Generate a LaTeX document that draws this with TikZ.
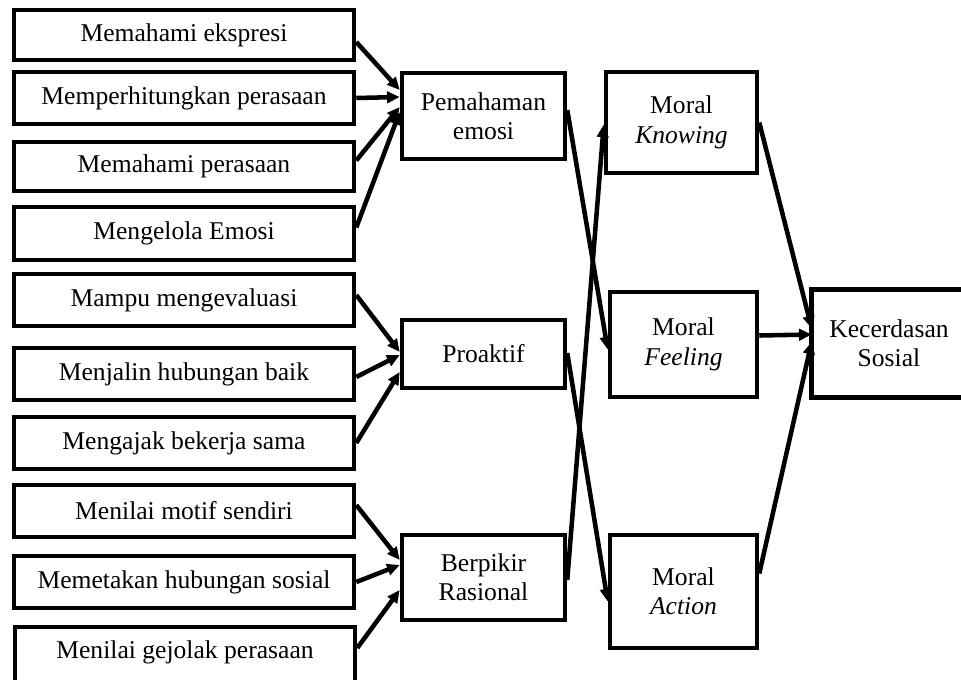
\documentclass[tikz,border=0pt]{standalone}
\usepackage{fontspec}
\setmainfont{Liberation Serif}
\usetikzlibrary{arrows.meta,calc}
\tikzset{
  box/.style={draw, line width=3.4pt, align=center, inner sep=0pt,
    font=\fontsize{19.2}{22}\selectfont},
  lbox/.style={box, minimum width=255pt},
  mbox/.style={box, minimum width=122.25pt},
  arr/.style={line width=3.4pt, -{Triangle[length=9.5pt,width=8.5pt]}},
}
\begin{document}
\begin{tikzpicture}[x=0.75pt,y=-0.75pt]
\fill[white] (0,0) rectangle (961,679);
\useasboundingbox (0,0) rectangle (961,679);
\begin{scope}
\clip (0,0) rectangle (961,679);
% result (box runs past the right margin)
\node[box, draw=none, minimum width=112.5pt, minimum height=77.25pt] (kec) at (889,343.5) {Kecerdasan\\Sosial};
\draw[line width=3.4pt] ($(kec.north east)+(40,0)$) -- (kec.north west) -- (kec.south west) -- ($(kec.south east)+(40,0)$);
% left column
\node[lbox, minimum height=37.5pt]  (l1)  at (184,35)    {Memahami ekspresi};
\node[lbox, minimum height=39pt]    (l2)  at (184,98)    {Memperhitungkan perasaan};
\node[lbox, minimum height=36.75pt] (l3)  at (184,166.5) {Memahami perasaan};
\node[lbox, minimum height=39.75pt] (l4)  at (184,233.5) {Mengelola Emosi};
\node[lbox, minimum height=39pt]    (l5)  at (184,300)   {Mampu mengevaluasi};
\node[lbox, minimum height=39pt]    (l6)  at (184,374)   {Menjalin hubungan baik};
\node[lbox, minimum height=39pt]    (l7)  at (184,443)   {Mengajak bekerja sama};
\node[lbox, minimum height=39pt]    (l8)  at (184,511)   {Menilai motif sendiri};
\node[lbox, minimum height=39pt]    (l9)  at (184,582)   {Memetakan hubungan sosial};
\node[lbox, minimum height=45pt, text depth=11.7pt] (l10) at (185,657) {Menilai gejolak perasaan};
\end{scope}
% middle column
\node[mbox, minimum height=64.5pt]  (pe)  at (483.5,116)   {Pemahaman\\emosi};
\node[mbox, minimum height=51pt]    (pro) at (483.5,354)   {Proaktif};
\node[mbox, minimum height=63.75pt] (ber) at (483.5,577.5) {Berpikir\\Rasional};
% moral column
\node[box, minimum width=113.25pt, minimum height=75.75pt] (kn) at (681.5,122.5) {Moral\\\textit{Knowing}};
\node[box, minimum width=110.25pt, minimum height=78.75pt] (fe) at (683.5,344.5) {Moral\\\textit{Feeling}};
\node[box, minimum width=110.25pt, minimum height=84.75pt] (ac) at (683.5,591.5) {Moral\\\textit{Action}};
% arrows to Pemahaman emosi
\draw[arr] ($(l1.east)+(0,7)$)  -- ($(pe.west)+(0,-26)$);
\draw[arr] (l2.east)            -- ($(pe.west)+(0,-19)$);
\draw[arr] ($(l3.east)+(0,-6)$) -- ($(pe.west)+(0,-9)$);
\draw[arr] ($(l4.east)+(0,-6)$) -- ($(pe.west)+(0,-4)$);
% arrows to Proaktif
\draw[arr] ($(l5.east)+(0,-5)$) -- ($(pro.west)+(0,-2)$);
\draw[arr] ($(l6.east)+(0,3)$)  -- ($(pro.west)+(0,1)$);
\draw[arr] (l7.east)            -- ($(pro.west)+(0,18)$);
% arrows to Berpikir Rasional
\draw[arr] ($(l8.east)+(0,-6)$)  -- ($(ber.west)+(0,-17.5)$);
\draw[arr] (l9.east)             -- ($(ber.west)+(0,-12.5)$);
\draw[arr] ($(l10.east)+(0,-9)$) -- ($(ber.west)+(0,12.5)$);
% middle to moral
\draw[arr] ($(pe.east)+(0,-6)$)  -- ($(fe.west)+(0,5)$);
\draw[arr] ($(pro.east)+(0,-1)$) -- ($(ac.west)+(0,10)$);
\draw[arr] ($(ber.east)+(0,2.5)$) -- ($(kn.west)+(0,2)$);
% moral to result
\draw[arr] (kn.east)             -- ($(kec.west)+(0,-15)$);
\draw[arr] ($(fe.east)+(0,-9)$)  -- ($(kec.west)+(0,-9)$);
\draw[arr] ($(ac.east)+(0,-18)$) -- ($(kec.west)+(0,-2)$);
\end{tikzpicture}
\end{document}
